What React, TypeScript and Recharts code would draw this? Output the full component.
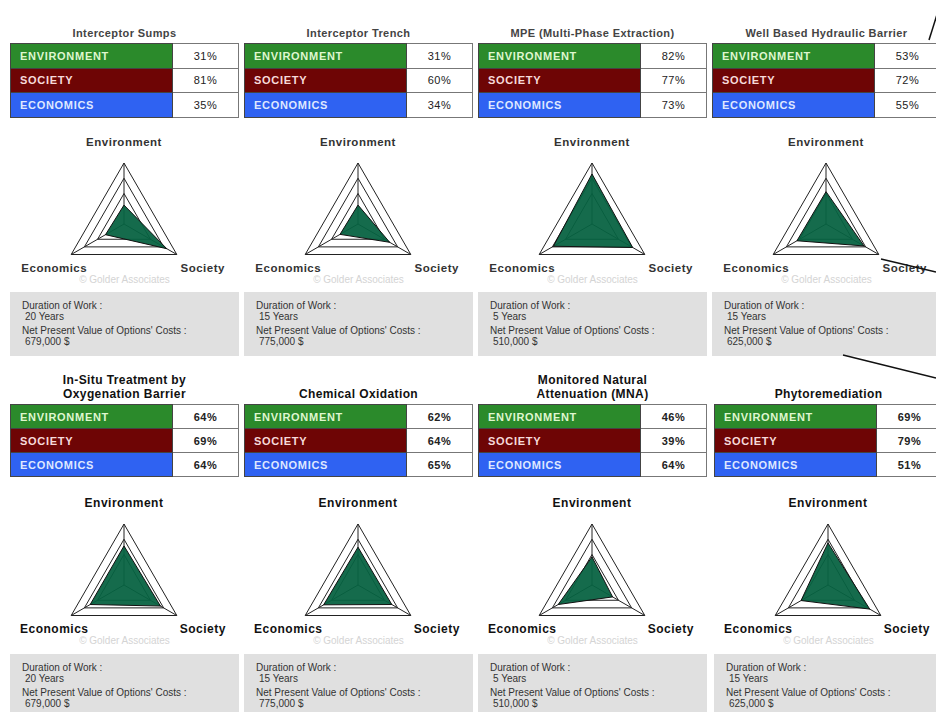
import {
  RadarChart,
  Radar,
  PolarGrid,
  PolarAngleAxis,
  PolarRadiusAxis,
} from "recharts";

// options, in reading order (top row then bottom row)
const TITLES = [
  "Interceptor Sumps",
  "Interceptor Trench",
  "MPE (Multi-Phase Extraction)",
  "Well Based Hydraulic Barrier",
  "In-Situ Treatment by\nOxygenation Barrier",
  "Chemical Oxidation",
  "Monitored Natural\nAttenuation (MNA)",
  "Phytoremediation",
];
const ENVIRONMENT = [31, 31, 82, 53, 64, 62, 46, 69];
const SOCIETY = [81, 60, 77, 72, 69, 64, 39, 79];
const ECONOMICS = [35, 34, 73, 55, 64, 65, 64, 51];
const DURATIONS = ["20 Years", "15 Years", "5 Years", "15 Years", "20 Years", "15 Years", "5 Years", "15 Years"];
const COSTS = ["679,000 $", "775,000 $", "510,000 $", "625,000 $", "679,000 $", "775,000 $", "510,000 $", "625,000 $"];

const AXES = ["Environment", "Society", "Economics"];
const ROW_LABELS = ["ENVIRONMENT", "SOCIETY", "ECONOMICS"];
const GRID_TICKS = [50, 75, 100];

const ROW_COLORS = [
  { bg: "#2b8a2b", fg: "#dff7cf" },
  { bg: "#6e0505", fg: "#f7dada" },
  { bg: "#2f62f2", fg: "#dfe8ff" },
];

// layout
const COL_X = [
  [10, 244, 478, 712],
  [10, 244, 478, 714],
];
const TABLE_TOP = [43, 404];
const PANEL_W = 229;

const FONT = "'Liberation Sans', Arial, sans-serif";

const AngleTick = (props: any) => {
  const { x, y, payload, index, bottom } = props;
  let dx = 0;
  let dy = -13;
  if (index === 1) {
    dx = 19;
    dy = 9;
  } else if (index === 2) {
    dx = -10;
    dy = 9;
  }
  return (
    <text
      x={x + dx}
      y={y + dy}
      textAnchor="middle"
      dominantBaseline="central"
      fontFamily={FONT}
      fontWeight="bold"
      fontSize={bottom ? 12 : 11.5}
      fill={bottom ? "#111" : "#333"}
      letterSpacing={0.5}
    >
      {payload.value}
    </text>
  );
};

const Panel = ({ i }: { i: number }) => {
  const bottom = i >= 4;
  const left = COL_X[bottom ? 1 : 0][i % 4];
  const top = TABLE_TOP[bottom ? 1 : 0];
  const values = [ENVIRONMENT[i], SOCIETY[i], ECONOMICS[i]];
  const radarData = AXES.map((a, k) => ({ axis: a, value: values[k] }));

  return (
    <div style={{ position: "absolute", left, top, width: PANEL_W }}>
      <div
        style={{
          position: "absolute",
          left: 0,
          width: PANEL_W,
          top: -3,
          transform: "translateY(-100%)",
          textAlign: "center",
          whiteSpace: "pre-line",
          lineHeight: "14px",
          fontFamily: FONT,
          fontWeight: "bold",
          fontSize: bottom ? 12 : 11,
          color: bottom ? "#111" : "#444",
          letterSpacing: 0.4,
        }}
      >
        {TITLES[i]}
      </div>

      <table
        style={{
          borderCollapse: "collapse",
          width: PANEL_W,
          fontFamily: FONT,
          fontSize: 11,
          border: "1.5px solid #333",
        }}
      >
        <tbody>
          {ROW_LABELS.map((label, k) => (
            <tr key={label} style={{ height: bottom ? 24 : 24.5 }}>
              <td
                style={{
                  width: 152,
                  background: ROW_COLORS[k].bg,
                  color: ROW_COLORS[k].fg,
                  fontWeight: "bold",
                  letterSpacing: 0.7,
                  padding: "0 0 0 9px",
                  border: "1px solid #444",
                }}
              >
                {label}
              </td>
              <td
                style={{
                  background: "#fff",
                  color: "#222",
                  textAlign: "center",
                  fontWeight: bottom ? "bold" : "normal",
                  letterSpacing: 0.5,
                  padding: 0,
                  border: "1px solid #777",
                }}
              >
                {values[k]}%
              </td>
            </tr>
          ))}
        </tbody>
      </table>

      <div style={{ position: "absolute", left: 0, top: 87 }}>
        <RadarChart
          width={PANEL_W}
          height={160}
          cx={114}
          cy={94}
          outerRadius={61}
          data={radarData}
          margin={{ top: 0, right: 0, bottom: 0, left: 0 }}
        >
          <PolarGrid gridType="polygon" stroke="#222" strokeWidth={1} />
          <PolarAngleAxis
            dataKey="axis"
            tickLine={false}
            tick={(p: any) => <AngleTick {...p} bottom={bottom} />}
          />
          <PolarRadiusAxis
            domain={[0, 100]}
            ticks={GRID_TICKS as any}
            tick={false}
            axisLine={false}
          />
          <Radar
            dataKey="value"
            fill="#066241"
            fillOpacity={0.94}
            stroke="#111"
            strokeWidth={1}
            isAnimationActive={false}
          />
        </RadarChart>
      </div>

      <div
        style={{
          position: "absolute",
          left: 0,
          top: 231,
          width: PANEL_W,
          textAlign: "center",
          fontFamily: FONT,
          fontSize: 10,
          color: "#d4d4d4",
          lineHeight: "12px",
        }}
      >
        © Golder Associates
      </div>

      <div
        style={{
          position: "absolute",
          left: 0,
          top: bottom ? 250 : 249,
          width: PANEL_W,
          height: bottom ? 62 : 64,
          background: "#e0e0e0",
          fontFamily: FONT,
          fontSize: 10,
          color: "#333",
          boxSizing: "border-box",
          padding: "8px 0 0 12px",
          lineHeight: "11px",
        }}
      >
        <div>Duration of Work :</div>
        <div style={{ paddingLeft: 3 }}>{DURATIONS[i]}</div>
        <div style={{ marginTop: 3 }}>Net Present Value of Options' Costs :</div>
        <div style={{ paddingLeft: 3 }}>{COSTS[i]}</div>
      </div>
    </div>
  );
};

export default function App() {
  return (
    <div
      style={{
        position: "absolute",
        left: 0,
        top: 0,
        width: 936,
        height: 712,
        overflow: "hidden",
        background: "#fff",
      }}
    >
      {TITLES.map((_, i) => (
        <Panel key={i} i={i} />
      ))}
      {/* callout lines drawn over the sheet */}
      <svg
        width={936}
        height={712}
        style={{ position: "absolute", left: 0, top: 0, pointerEvents: "none" }}
      >
        <line x1={929} y1={40} x2={941} y2={2} stroke="#111" strokeWidth={1.5} />
        <line x1={881} y1={259} x2={936} y2={272} stroke="#111" strokeWidth={1.5} />
        <line x1={843} y1={355} x2={936} y2={378} stroke="#111" strokeWidth={1.5} />
      </svg>
    </div>
  );
}
